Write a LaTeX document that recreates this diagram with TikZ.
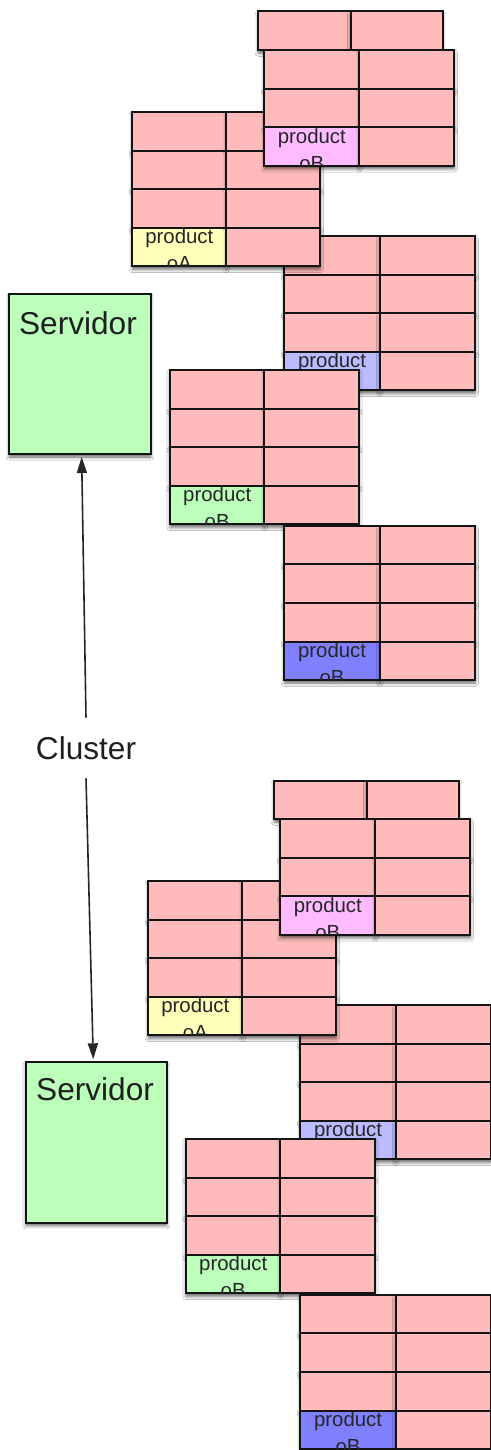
\documentclass[tikz,border=0pt]{standalone}
\usepackage{fontspec}
\setmainfont{Liberation Sans}
\usetikzlibrary{shadows.blur,arrows.meta,calc}

\definecolor{cellpink}{HTML}{FFBBBB}
\definecolor{srvgreen}{HTML}{BBFFBB}
\definecolor{prodyellow}{HTML}{FFFFBB}
\definecolor{prodmagenta}{HTML}{FFBBFF}
\definecolor{prodlavender}{HTML}{BBBBFF}
\definecolor{prodblue}{HTML}{8080FF}
\definecolor{edge}{HTML}{141414}

\tikzset{
  boxshadow/.style={blur shadow={shadow xshift=0pt, shadow yshift=-1.5pt,
      shadow blur radius=1.6pt, shadow opacity=60}},
  cellbox/.style={draw=edge, line width=1pt, fill=cellpink, minimum height=19.3pt,
      inner sep=0pt, outer sep=0pt, anchor=north west, boxshadow},
  prodlabel/.style={font=\fontsize{10.2}{12}\selectfont, text=black!85,
      inner sep=0pt, anchor=base},
  server/.style={draw=edge, line width=1pt, fill=srvgreen, inner sep=0pt,
      outer sep=0pt, anchor=north west, boxshadow},
  biglabel/.style={font=\fontsize{15.8}{19}\selectfont, text=black!88, inner sep=0pt},
  conn/.style={draw=black!85, line width=0.8pt,
      -{Triangle[length=8pt,width=5pt]}, shorten >=1.5pt},
}

% one row of two cells: name, x, y, cell width, fill of the left cell
\newcommand\dbrow[5]{%
  \node[cellbox, minimum width=#4, fill=#5] (#1a) at (#2,#3) {};
  \node[cellbox, minimum width=#4] (#1b) at (#1a.north east) {};
}

% a 4x2 table: name, x, y, cell width, product fill, second label line,
% left shift of the first row, cell width of the first row
\newcommand\dbtable[8]{%
  \dbrow{#1-1}{#2-#7}{#3}{#8}{cellpink}
  \dbrow{#1-2}{#2}{#3+38.6}{#4}{cellpink}
  \dbrow{#1-3}{#2}{#3+77.2}{#4}{cellpink}
  \dbrow{#1-4}{#2}{#3+115.8}{#4}{#5}
  \begin{scope}
    \clip (#1-4a.north west) rectangle (#1-4a.south east);
    \node[prodlabel] (#1-p1) at ($(#1-4a.north)+(0,16)$) {product};
    \node[prodlabel] (#1-p2) at ($(#1-4a.north)+(0,43)$) {#6};
  \end{scope}
}

% the five tables held by one server
\newcommand\shardset[1]{%
  \dbtable{#1C}{284.3}{236}{47.75pt}{prodlavender}{oB}{0}{47.75pt}
  \dbtable{#1A}{132.3}{112}{47pt}{prodyellow}{oA}{0}{47pt}
  \dbtable{#1B}{264.3}{11.5}{47.5pt}{prodmagenta}{oB}{6}{46.1pt}
  \dbtable{#1D}{170}{370}{47.2pt}{srvgreen}{oB}{0}{47.2pt}
  \dbtable{#1E}{284.3}{525.7}{47.75pt}{prodblue}{oB}{0}{47.75pt}
}

\begin{document}
\begin{tikzpicture}[x=0.5pt, y=-0.5pt]
  \fill[white] (0,0) rectangle (491,1450);
  \useasboundingbox (0,0) rectangle (491,1450);

  % upper server and its tables
  \shardset{U}
  \node[server, minimum width=70.7pt, minimum height=80pt] (srvtop) at (9.3,294) {};
  \node[biglabel, anchor=base] (srvtopname) at ($(srvtop.north)+(-2,40)$) {Servidor};

  % lower server and its tables
  \begin{scope}[shift={(16,769)}]
    \shardset{L}
  \end{scope}
  \node[server, minimum width=70.35pt, minimum height=80.2pt] (srvbot) at (26,1062.3) {};
  \node[biglabel, anchor=base] (srvbotname) at ($(srvbot.north)+(-1.3,38.5)$) {Servidor};

  % cluster label and links
  \node[biglabel, minimum height=30pt] (cluster) at (86,748) {Cluster};
  \draw[conn] (cluster.north) -- ([xshift=0.8pt]srvtop.south);
  \draw[conn] (cluster.south) -- ([xshift=-1.5pt]srvbot.north);
\end{tikzpicture}
\end{document}
